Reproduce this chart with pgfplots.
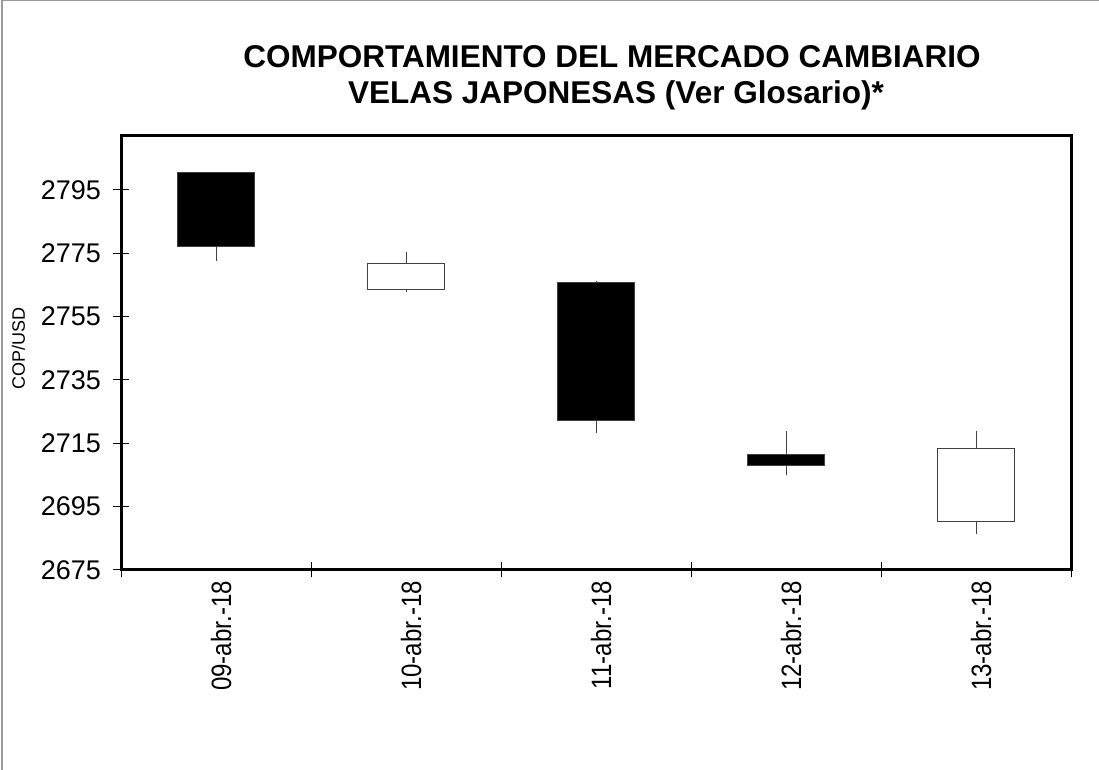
\documentclass[border=0pt]{standalone}
\usepackage{fontspec}
\setmainfont{Liberation Sans}
\newfontfamily\xlabfont[FakeStretch=0.86]{Liberation Sans}
\usepackage{pgfplots}
\pgfplotsset{compat=1.18}
\usepgfplotslibrary{statistics}
\begin{document}
\begin{tikzpicture}
\path[use as bounding box] (0pt,0pt) rectangle (1099pt,770pt);
\draw[gray!80, line width=1.5pt] (2pt,0pt) -- (2pt,769.25pt) -- (1099pt,769.25pt);
\node[anchor=base, font=\bfseries\fontsize{31.5}{36}\selectfont] at (612pt,702pt) {COMPORTAMIENTO DEL MERCADO CAMBIARIO};
\node[anchor=base, font=\bfseries\fontsize{31.5}{36}\selectfont] at (616pt,666pt) {VELAS JAPONESAS (Ver Glosario)*};
\begin{axis}[
  at={(121pt,200pt)}, anchor=south west,
  scale only axis, width=950pt, height=434pt,
  xmin=0, xmax=5, ymin=2675, ymax=2812,
  ytick={2675,2695,2715,2735,2755,2775,2795},
  xtick={0.5,1.5,2.5,3.5,4.5},
  xticklabels={09-abr.-18,10-abr.-18,11-abr.-18,12-abr.-18,13-abr.-18},
  minor xtick={0,1,2,3,4,5},
  major x tick style={draw=none},
  tick align=center,
  xtick pos=bottom, ytick pos=left,
  major tick length=15pt, minor tick length=15pt,
  tick style={black, line width=1pt},
  axis line style={line width=3pt},
  /pgf/number format/assume math mode=true,
  /pgf/number format/set thousands separator={},
  yticklabel style={font=\fontsize{27}{30}\selectfont, xshift=-9pt},
  xticklabel style={font=\xlabfont\fontsize{28}{30}\selectfont, rotate=90, anchor=east, yshift=-5pt},
  ylabel={COP/USD},
  ylabel style={font=\fontsize{18}{21}\selectfont, at={(axis description cs:-0.108,0.51)}, anchor=center},
  clip=false,
  boxplot/draw direction=y,
]
\addplot[draw=black!75, fill=black, line width=1pt,
  boxplot prepared={draw position=0.5, box extend=0.405, whisker extend=0,
    lower whisker=2772.5, lower quartile=2777.2, median=2777.2,
    upper quartile=2800.4, upper whisker=2800.4}] coordinates {};
\addplot[draw=black!75, fill=white, line width=1pt,
  boxplot prepared={draw position=1.5, box extend=0.405, whisker extend=0,
    lower whisker=2762.9, lower quartile=2763.4, median=2763.4,
    upper quartile=2771.7, upper whisker=2775.3}] coordinates {};
\addplot[draw=black!75, fill=black, line width=1pt,
  boxplot prepared={draw position=2.5, box extend=0.405, whisker extend=0,
    lower whisker=2718.1, lower quartile=2722.1, median=2722.1,
    upper quartile=2765.8, upper whisker=2766.3}] coordinates {};
\addplot[draw=black!75, fill=black, line width=1pt,
  boxplot prepared={draw position=3.5, box extend=0.405, whisker extend=0,
    lower whisker=2704.9, lower quartile=2708.0, median=2708.0,
    upper quartile=2711.6, upper whisker=2718.8}] coordinates {};
\addplot[draw=black!75, fill=white, line width=1pt,
  boxplot prepared={draw position=4.5, box extend=0.405, whisker extend=0,
    lower whisker=2686.4, lower quartile=2690.4, median=2690.4,
    upper quartile=2713.4, upper whisker=2719.0}] coordinates {};
\end{axis}
\end{tikzpicture}
\end{document}
